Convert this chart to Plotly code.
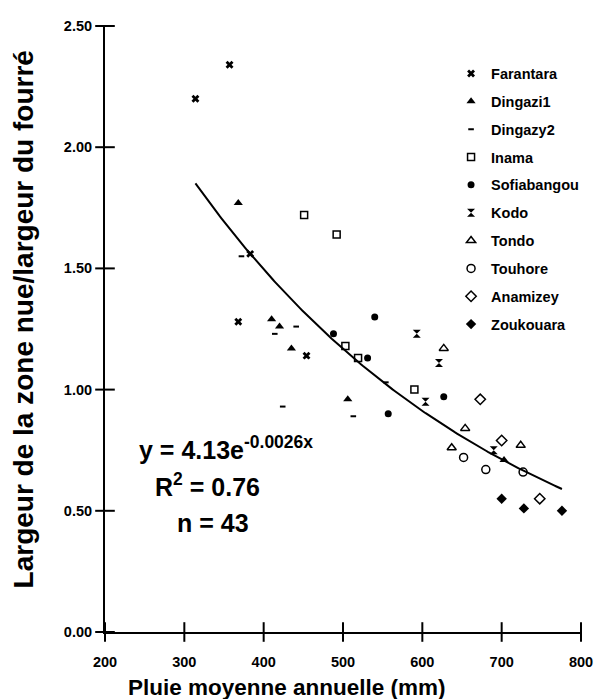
import numpy as np
import plotly.graph_objects as go

# ---- data ----
farantara_x = [314, 357, 383, 368, 454]
farantara_y = [2.20, 2.34, 1.56, 1.28, 1.14]
dingazi1_x = [368, 410, 420, 435, 506, 703]
dingazi1_y = [1.77, 1.29, 1.26, 1.17, 0.96, 0.71]
dingazy2_x = [372, 414, 441, 424, 513, 554]
dingazy2_y = [1.55, 1.23, 1.26, 0.93, 0.89, 1.03]
inama_x = [451, 492, 503, 519, 590]
inama_y = [1.72, 1.64, 1.18, 1.13, 1.00]
sofia_x = [488, 531, 540, 557, 627]
sofia_y = [1.23, 1.13, 1.30, 0.90, 0.97]
kodo_x = [593, 621, 604, 690]
kodo_y = [1.23, 1.11, 0.95, 0.75]
tondo_x = [627, 654, 637, 724]
tondo_y = [1.17, 0.84, 0.76, 0.77]
touhore_x = [652, 680, 727]
touhore_y = [0.72, 0.67, 0.66]
anamizey_x = [673, 700, 748]
anamizey_y = [0.96, 0.79, 0.55]
zouk_x = [700, 728, 776]
zouk_y = [0.55, 0.51, 0.50]

x_ticks = [200, 300, 400, 500, 600, 700, 800]
y_ticks = [0.0, 0.5, 1.0, 1.5, 2.0, 2.5]
y_ticklabels = ["0.00", "0.50", "1.00", "1.50", "2.00", "2.50"]

series = [
    ("Farantara", farantara_x, farantara_y, "x", 7, 0),
    ("Dingazi1", dingazi1_x, dingazi1_y, "triangle-up", 8, 0),
    ("Dingazy2", dingazy2_x, dingazy2_y, "line-ew", 4, 2),
    ("Inama", inama_x, inama_y, "square-open", 7, 1.5),
    ("Sofiabangou", sofia_x, sofia_y, "circle", 7, 0),
    ("Kodo", kodo_x, kodo_y, "hourglass", 8, 0),
    ("Tondo", tondo_x, tondo_y, "triangle-up-open", 8, 1.5),
    ("Touhore", touhore_x, touhore_y, "circle-open", 8, 1.5),
    ("Anamizey", anamizey_x, anamizey_y, "diamond-open", 8, 1.5),
    ("Zoukouara", zouk_x, zouk_y, "diamond", 8, 0),
]

FONT = "Liberation Sans, Arial, sans-serif"
fig = go.Figure()

# exponential trend line fitted to all points
all_x = np.concatenate([np.array(s[1], float) for s in series])
all_y = np.concatenate([np.array(s[2], float) for s in series])
b, lna = np.polyfit(all_x, np.log(all_y), 1)
tx = np.linspace(all_x.min(), all_x.max(), 200)
ty = np.exp(lna) * np.exp(b * tx)
fig.add_trace(go.Scatter(x=tx, y=ty, mode="lines", line=dict(color="black", width=2),
                         showlegend=False, hoverinfo="skip"))

for name, xs, ys, sym, size, lw in series:
    fig.add_trace(go.Scatter(
        x=xs, y=ys, mode="markers", name=name, legendgroup=name,
        marker=dict(symbol=sym, size=size, color="black",
                    line=dict(color="black", width=lw)),
    ))

# crossing tick marks: short line markers centred on the axes at the tick values
fig.add_trace(go.Scatter(x=x_ticks, y=[y_ticks[0]] * len(x_ticks), mode="markers",
                         marker=dict(symbol="line-ns", size=14, color="black",
                                     line=dict(color="black", width=2)),
                         cliponaxis=False, showlegend=False, hoverinfo="skip"))
fig.add_trace(go.Scatter(x=[x_ticks[0]] * len(y_ticks), y=y_ticks, mode="markers",
                         marker=dict(symbol="line-ew", size=14, color="black",
                                     line=dict(color="black", width=2)),
                         cliponaxis=False, showlegend=False, hoverinfo="skip"))

axis_common = dict(showgrid=False, zeroline=False, showline=True, linewidth=2,
                   linecolor="black", ticks="")
fig.update_layout(
    width=604, height=699,
    margin=dict(l=105, r=23, t=26, b=67),
    paper_bgcolor="white", plot_bgcolor="white",
    font=dict(family=FONT, color="black", weight="bold"),
    xaxis=dict(range=[200, 800], tickvals=x_ticks, **axis_common,
               tickfont=dict(size=14.5, family=FONT, weight="bold"),
               ticklabelstandoff=16),
    yaxis=dict(range=[0, 2.5], tickvals=y_ticks, ticktext=y_ticklabels, **axis_common,
               tickfont=dict(size=14.5, family=FONT, weight="bold"),
               ticklabelstandoff=8),
    legend=dict(x=0.727, y=0.948, xanchor="left", yanchor="top",
                font=dict(size=14.5, family=FONT, weight="bold"),
                tracegroupgap=6, bgcolor="rgba(0,0,0,0)", itemwidth=30),
    showlegend=True,
)

fig.add_annotation(text="y = 4.13e<sup>-0.0026x</sup>", xref="paper", yref="paper",
                   x=0.067, y=0.303, xanchor="left", yanchor="middle", showarrow=False,
                   font=dict(size=25, family=FONT, weight="bold"))
fig.add_annotation(text="R<sup>2</sup> = 0.76", xref="paper", yref="paper",
                   x=0.215, y=0.242, xanchor="center", yanchor="middle", showarrow=False,
                   font=dict(size=25, family=FONT, weight="bold"))
fig.add_annotation(text="n = 43", xref="paper", yref="paper",
                   x=0.227, y=0.180, xanchor="center", yanchor="middle", showarrow=False,
                   font=dict(size=25, family=FONT, weight="bold"))
fig.add_annotation(text="Pluie moyenne annuelle (mm)", xref="paper", yref="paper",
                   x=0.382, y=-0.092, xanchor="center", yanchor="middle", showarrow=False,
                   font=dict(size=22.5, family=FONT, weight="bold"))
fig.add_annotation(text="Largeur de la zone nue/largeur du fourré", xref="paper", yref="paper",
                   x=-0.172, y=0.516, xanchor="center", yanchor="middle", showarrow=False,
                   textangle=-90, font=dict(size=28, family=FONT, weight="bold"))

fig.write_html("out.html")
